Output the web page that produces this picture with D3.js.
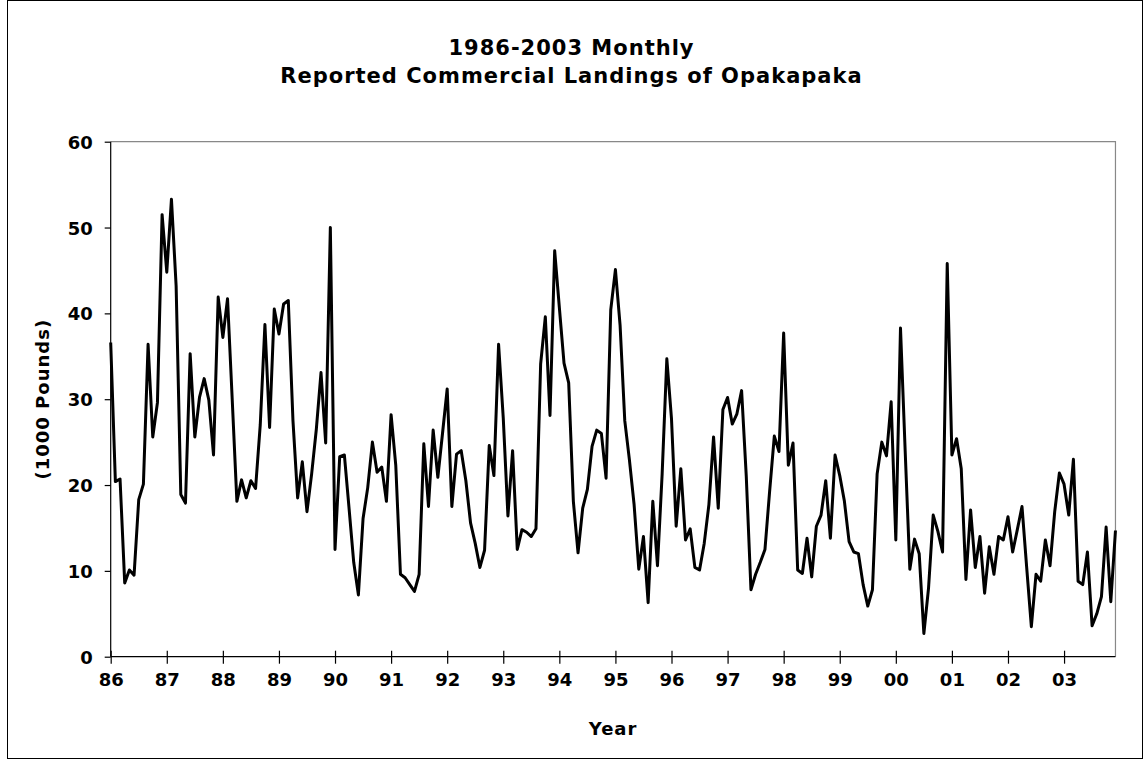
<!DOCTYPE html>
<html><head><meta charset="utf-8">
<script src="https://cdn.jsdelivr.net/npm/d3@7"></script>
<style>
body{margin:0;background:#fff}
text{font-family:"DejaVu Sans",Verdana,sans-serif;font-weight:bold;fill:#000}
</style>
</head><body>
<svg id="chart" width="1143" height="759"></svg>
<script>
const titleLines = ["1986-2003 Monthly", "Reported Commercial Landings of Opakapaka"];
const yAxisTitle = "(1000 Pounds)";
const xAxisTitle = "Year";
const yearLabels = ["86","87","88","89","90","91","92","93","94","95","96","97","98","99","00","01","02","03"];
const yTicks = [0, 10, 20, 30, 40, 50, 60];
// monthly landings, Jan 1986 .. Dec 2003 (1000 lb)
const landings1986_1991 = [
  36.6,20.4,20.7,8.6,10.1,9.5,18.3,20.1,36.4,25.6,29.6,51.5,
  44.8,53.3,43.2,18.9,17.9,35.3,25.6,30.2,32.4,29.9,23.5,41.9,
  37.2,41.7,30.0,18.1,20.6,18.5,20.5,19.6,27.0,38.7,26.7,40.5,
  37.6,41.1,41.5,27.5,18.5,22.7,16.9,21.3,26.5,33.1,24.9,50.0,
  12.5,23.3,23.5,17.3,11.0,7.2,16.1,19.7,25.0,21.5,22.1,18.1,
  28.2,22.3,9.6,9.2,8.4,7.6,9.6,24.8,17.5,26.4,20.9,26.0
];
const landings1992_1997 = [
  31.2,17.5,23.6,24.0,20.5,15.6,13.2,10.4,12.4,24.6,21.1,36.4,
  27.8,16.4,24.0,12.5,14.8,14.5,14.0,14.9,34.1,39.6,28.1,47.3,
  40.7,34.2,31.9,18.1,12.1,17.3,19.5,24.5,26.4,26.0,20.8,40.4,
  45.1,38.6,27.5,22.9,17.7,10.2,14.0,6.3,18.1,10.6,21.3,34.7,
  27.7,15.2,21.9,13.6,14.9,10.4,10.1,13.2,17.7,25.6,17.3,28.8,
  30.2,27.1,28.3,31.0,21.0,7.8,9.6,11.0,12.5,19.3,25.7,23.9
];
const landings1998_2003 = [
  37.7,22.3,24.9,10.1,9.7,13.8,9.3,15.2,16.5,20.5,13.8,23.5,
  21.1,18.1,13.4,12.2,12.0,8.4,5.9,7.8,21.3,25.0,23.4,29.7,
  13.6,38.3,24.0,10.2,13.7,12.0,2.7,8.0,16.5,14.6,12.2,45.8,
  23.5,25.4,21.9,9.0,17.1,10.4,14.0,7.4,12.8,9.6,14.0,13.6,
  16.3,12.2,14.8,17.5,10.4,3.5,9.6,8.8,13.6,10.6,16.9,21.4,
  20.1,16.5,23.0,8.8,8.4,12.2,3.6,5.0,7.0,15.1,6.4,14.7
];
const landings = landings1986_1991.concat(landings1992_1997, landings1998_2003);

(function () {
const svg = d3.select("#chart");
const W = 1143, H = 759;
const pLeft = 110.7, pTop = 141.7, pBottom = 656.7;
const monthW = 56.08 / 12;
const pRight = pLeft + (landings.length - 1) * monthW;

// outer frame
svg.append("rect").attr("x", 7.5).attr("y", 0.5).attr("width", W - 8).attr("height", H - 1)
  .attr("fill", "none").attr("stroke", "#000").attr("stroke-width", 1);

const x = d3.scaleLinear().domain([0, landings.length - 1]).range([pLeft, pRight]);
const y = d3.scaleLinear().domain([0, 60]).range([pBottom, pTop]);

// plot border (gray top/right)
svg.append("path")
  .attr("d", `M${pLeft},${pTop}H${pRight}V${pBottom}`)
  .attr("fill", "none").attr("stroke", "#888").attr("stroke-width", 1.2);

// y axis
const yAxis = d3.axisLeft(y).tickValues(yTicks).tickSize(6).tickPadding(12);
const gy = svg.append("g").attr("transform", `translate(${pLeft},0)`).call(yAxis);
gy.select(".domain").attr("stroke", "#000").attr("stroke-width", 1.2).attr("d", `M0,${pTop}V${pBottom}`);
gy.selectAll(".tick line").attr("stroke", "#000").attr("stroke-width", 1.2);
gy.selectAll(".tick text").style("font-size", "18px").attr("dy", "0.36em");

// x axis
const xTickVals = yearLabels.map((d, i) => i * 12);
const xAxis = d3.axisBottom(x).tickValues(xTickVals).tickFormat((d, i) => yearLabels[i]).tickSize(7).tickPadding(10);
const gx = svg.append("g").attr("transform", `translate(0,${pBottom})`).call(xAxis);
gx.select(".domain").attr("stroke", "#000").attr("stroke-width", 1.2).attr("d", `M${pLeft},0H${pRight}`);
gx.selectAll(".tick line").attr("stroke", "#000").attr("stroke-width", 1.2).attr("y1", -6);
gx.selectAll(".tick text").style("font-size", "18px");

// line
const line = d3.line().x((d, i) => x(i)).y(d => y(d));
svg.append("path").datum(landings)
  .attr("d", line).attr("fill", "none").attr("stroke", "#000")
  .attr("stroke-width", 3).attr("stroke-linejoin", "round");

// titles
svg.append("text").attr("x", W / 2).attr("y", 55).attr("text-anchor", "middle")
  .style("font-size", "21px").style("letter-spacing", "1px").text(titleLines[0]);
svg.append("text").attr("x", W / 2).attr("y", 83).attr("text-anchor", "middle")
  .style("font-size", "21px").style("letter-spacing", "1px").text(titleLines[1]);

svg.append("text").attr("x", (pLeft + pRight) / 2).attr("y", 735).attr("text-anchor", "middle")
  .style("font-size", "18px").style("letter-spacing", "1px").text(xAxisTitle);
svg.append("text").attr("transform", `translate(49,${(pTop + pBottom) / 2}) rotate(-90)`)
  .attr("text-anchor", "middle").style("font-size", "18px").style("letter-spacing", "1px").text(yAxisTitle);
})();
</script>
</body></html>
